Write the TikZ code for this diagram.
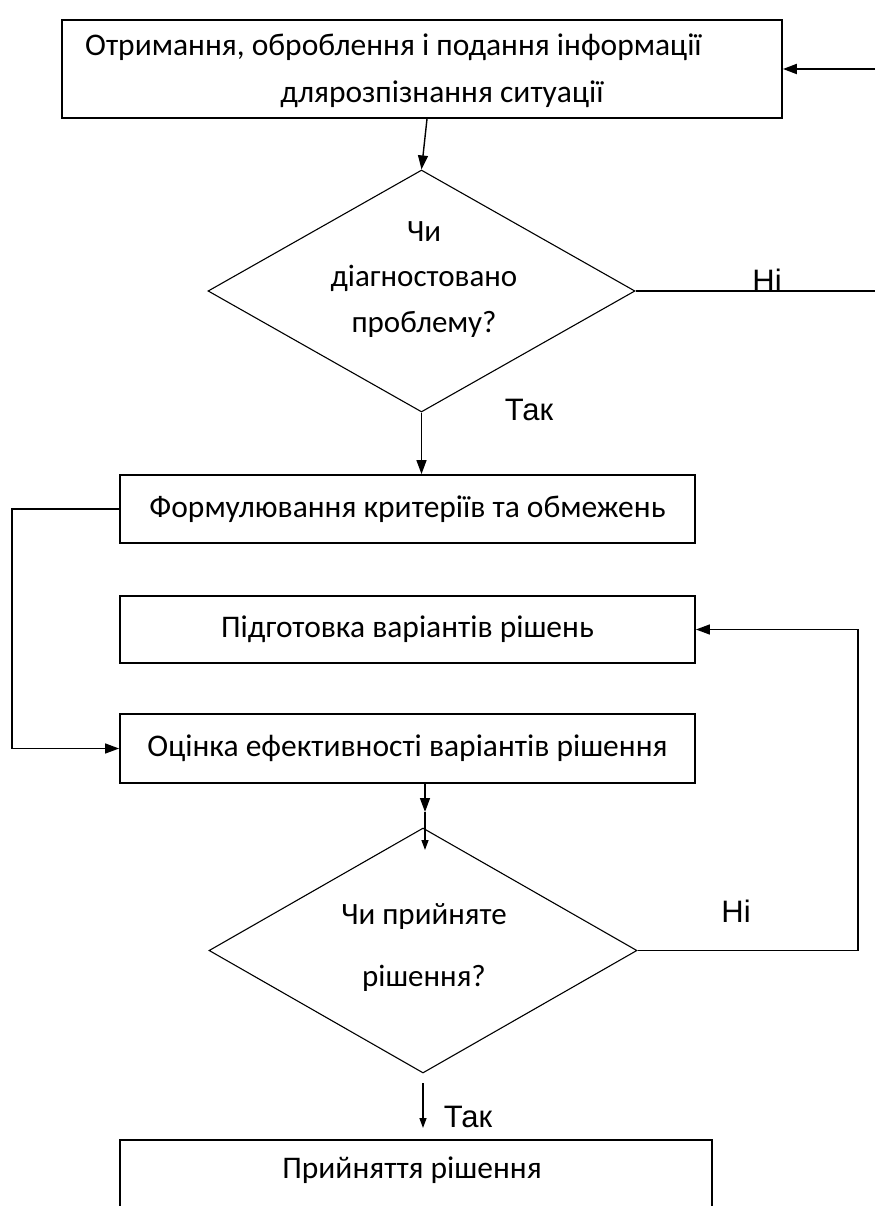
\documentclass[tikz,border=0pt]{standalone}
\usepackage{fontspec}
\setmainfont{Carlito}
\newfontfamily\answerfont{Liberation Sans}
\usetikzlibrary{shapes.geometric,arrows.meta,positioning}

\tikzset{
  stepbox/.style={draw, line width=1.8pt, minimum width=575pt, minimum height=68pt, inner sep=0pt},
  decision/.style={draw, diamond, line width=1.1pt, minimum width=427pt, minimum height=242pt, inner sep=0pt},
  link/.style={line width=1.4pt},
  arr/.style={link, -{Triangle[length=14pt,width=10pt]}},
  arrsmall/.style={link, -{Triangle[length=10pt,width=7pt]}},
  lbl/.style={inner sep=0pt},
  answer/.style={inner sep=0pt, font=\answerfont\fontsize{31}{37}\selectfont},
}

\begin{document}
\begin{tikzpicture}[x=1pt,y=-1pt,font=\fontsize{31.5}{37}\selectfont]
\useasboundingbox (0,0) rectangle (875,1206);
\clip (0,0) rectangle (875,1206);

% boxes
\node[stepbox, minimum width=720pt, minimum height=98pt] (info) at (422,69) {};
\node[lbl, anchor=base west] (infoA) at (85,56) {Отримання, оброблення і подання інформації};
\node[lbl, anchor=base] (infoB) at (442,103) {длярозпізнання ситуації};

\node[decision] (q1) at (421.5,291) {};
% base of a multi-line node = last line
\node[lbl, align=center, anchor=base, font=\fontsize{31}{45.5}\selectfont] (q1txt) at (424,332) {Чи\\діагностовано\\проблему?};

\node[stepbox] (crit) at (407.5,509) {Формулювання критеріїв та обмежень};
\node[stepbox, minimum height=67pt] (prep) at (407.5,629.5) {Підготовка варіантів рішень};
\node[stepbox, minimum height=69pt] (eval) at (407.5,748.5) {Оцінка ефективності варіантів рішення};

\node[decision, minimum width=428pt, minimum height=245pt] (q2) at (423,950.5) {};
\node[lbl, align=center, anchor=base, font=\fontsize{31}{62}\selectfont] (q2txt) at (424,986) {Чи прийняте\\рішення?};

\node[stepbox, minimum width=592pt, minimum height=90pt] (accept) at (416,1185) {};
\node[lbl] (acctxt) at (412,1170) {Прийняття рішення};

% labels
\node[answer] (no1) at (767,280) {Ні};
\node[answer] (yes1) at (529,410) {Так};
\node[answer] (no2) at (736,911) {Ні};
\node[answer] (yes2) at (468,1117) {Так};

% connectors
\coordinate (inR) at (875,69);
\coordinate (noR) at (875,291);
\coordinate (lft) at (12,0);
\coordinate (loopR) at (858,0);
\coordinate (midA) at (425,783);
\coordinate (midB) at (425,812);
\coordinate (midC) at (425,850);
\coordinate (yesA) at (423,1083);
\coordinate (yesB) at (423,1128);

\draw[arr, line width=2pt] (inR) -- (info.east);
\draw[arr] ([xshift=5pt]info.south) -- (q1.north);
\draw[link] (q1.east) -- (noR);
\draw[arr] (q1.south) -- (q1.south |- crit.north);
\draw[arr] (crit.west) -- (crit.west -| lft) |- (eval.west);
\draw[arr] (midA) -- (midB);
\draw[arrsmall] (midB) -- (midC);
\draw[arr] (q2.east) -- (q2.east -| loopR) |- (prep.east);
\draw[arrsmall] (yesA) -- (yesB);
\end{tikzpicture}
\end{document}
